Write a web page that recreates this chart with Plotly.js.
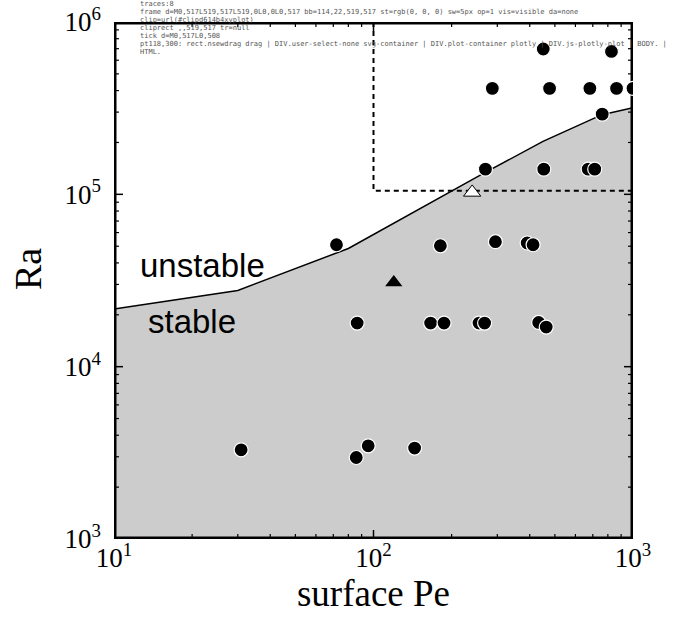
<!DOCTYPE html>
<html>
<head>
<meta charset="utf-8">
<script src="https://cdn.plot.ly/plotly-3.0.1.min.js"></script>
<style>html,body{margin:0;padding:0;background:#fff;}</style>
</head>
<body>
<div id="chart" style="width:675px;height:623px;"></div>
<div id="dbg" style="position:absolute;left:140px;top:0px;width:530px;font:7px monospace;line-height:8px;white-space:pre-wrap;word-break:break-all;color:#555;"></div>
<script>
// Stability boundary (surface Pe vs critical Ra)
var boundaryPe = [10, 30, 80, 150, 260, 450, 760, 1000];
var boundaryRa = [21600, 27700, 48500, 82000, 130000, 203000, 290000, 318000];

// Experimental points (filled circles)
var circlePe = [451, 826, 287, 477, 682, 864, 1000, 761, 270, 453, 672, 712,
                72, 181, 295, 391, 412,
                86.5, 166, 187, 255, 268, 433, 463,
                30.9, 85.8, 95.4, 144];
var circleRa = [697000, 675000, 412000, 412000, 412000, 412000, 412000, 292000, 140000, 140000, 140000, 140000,
                51000, 50300, 53100, 52200, 51000,
                17900, 17900, 17900, 17900, 17900, 18050, 16980,
                3294, 2972, 3475, 3370];

// Filled triangle
var triFilledPe = [119.7];
var triFilledRa = [30800];
// Open triangle
var triOpenPe = [240];
var triOpenRa = [102600];

// Dashed box region
var boxPe = [100, 100, 1000, 1000, 100];
var boxRa = [1000000, 105000, 105000, 1000000, 1000000];

// Axis ranges (log10) and ticks
var xRange = [1, 3];
var yRange = [3, 6];
var xTickVals = [10, 100, 1000];
var xTickText = ['10<sup>1</sup>', '10<sup>2</sup>', '10<sup>3</sup>'];
var yTickVals = [1000, 10000, 100000, 1000000];
var yTickText = ['10<sup>3</sup>', '10<sup>4</sup>', '10<sup>5</sup>', '10<sup>6</sup>'];
var xMinorVals = [20, 30, 40, 50, 60, 70, 80, 90, 200, 300, 400, 500, 600, 700, 800, 900];
var yMinorVals = [2000, 3000, 4000, 5000, 6000, 7000, 8000, 9000,
                  20000, 30000, 40000, 50000, 60000, 70000, 80000, 90000,
                  200000, 300000, 400000, 500000, 600000, 700000, 800000, 900000];

var serif = "Liberation Serif, Times New Roman, serif";
var sans = "Liberation Sans, Arial, Helvetica, sans-serif";

var W = 675, H = 623, M = {l: 114, r: 42, t: 22, b: 84};
var pxPerDecX = (W - M.l - M.r) / (xRange[1] - xRange[0]);
var pxPerDecY = (H - M.t - M.b) / (yRange[1] - yRange[0]);

function tickTrace(xv, yv, len, w) {
  var xs = [], ys = [];
  var dx = len / pxPerDecX, dy = len / pxPerDecY;
  var xLo = Math.pow(10, xRange[0]), xHi = Math.pow(10, xRange[1]);
  var yLo = Math.pow(10, yRange[0]), yHi = Math.pow(10, yRange[1]);
  xv.forEach(function (v) {
    xs.push(v, v, null, v, v, null);
    ys.push(yLo, Math.pow(10, yRange[0] + dy), null, yHi, Math.pow(10, yRange[1] - dy), null);
  });
  yv.forEach(function (v) {
    ys.push(v, v, null, v, v, null);
    xs.push(xLo, Math.pow(10, xRange[0] + dx), null, xHi, Math.pow(10, xRange[1] - dx), null);
  });
  return {x: xs, y: ys, mode: 'lines', line: {color: 'black', width: w}, connectgaps: false,
          hoverinfo: 'skip', showlegend: false};
}

var frameX = [Math.pow(10, xRange[0]), Math.pow(10, xRange[1]), Math.pow(10, xRange[1]), Math.pow(10, xRange[0]), Math.pow(10, xRange[0])];
var frameY = [Math.pow(10, yRange[0]), Math.pow(10, yRange[0]), Math.pow(10, yRange[1]), Math.pow(10, yRange[1]), Math.pow(10, yRange[0])];

var traces = [
  {x: boundaryPe, y: boundaryRa, mode: 'lines', fill: 'tozeroy', fillcolor: '#cccccc',
   line: {color: 'black', width: 1.5}, hoverinfo: 'skip', showlegend: false},
  {x: boxPe, y: boxRa, mode: 'lines', line: {color: 'black', width: 2, dash: '5px,4px'},
   showlegend: false, hoverinfo: 'skip'},
  tickTrace(xTickVals, yTickVals, 9, 1.5),
  tickTrace(xMinorVals, yMinorVals, 5, 1.2),
  {x: frameX, y: frameY, mode: 'lines', line: {color: 'black', width: 5}, hoverinfo: 'skip', showlegend: false},
  {x: circlePe, y: circleRa, mode: 'markers',
   marker: {symbol: 'circle', size: 14, color: 'black', line: {color: 'white', width: 1.2}},
   showlegend: false},
  {x: triFilledPe, y: triFilledRa, mode: 'markers',
   marker: {symbol: 'triangle-up', size: 15, color: 'black', line: {color: 'black', width: 0}},
   showlegend: false},
  {x: triOpenPe, y: triOpenRa, mode: 'markers',
   marker: {symbol: 'triangle-up', size: 15, color: 'white', line: {color: 'black', width: 1}},
   showlegend: false}
];

var layout = {
  width: W, height: H,
  margin: M,
  paper_bgcolor: 'white', plot_bgcolor: 'white',
  showlegend: false,
  xaxis: {
    type: 'log', range: xRange, showgrid: false, zeroline: false, showline: false, ticks: '',
    tickmode: 'array', tickvals: xTickVals, ticktext: xTickText,
    tickfont: {family: serif, size: 27, color: 'black'},
    title: {text: 'surface Pe', font: {family: serif, size: 37, color: 'black'}, standoff: 1}
  },
  yaxis: {
    type: 'log', range: yRange, showgrid: false, zeroline: false, showline: false, ticks: '',
    tickmode: 'array', tickvals: yTickVals, ticktext: yTickText,
    ticklabelstandoff: 12,
    tickfont: {family: serif, size: 27, color: 'black'}
  },
  annotations: [
    {text: 'Ra', xref: 'paper', yref: 'paper', x: -0.166, y: 0.522, textangle: -90,
     xanchor: 'center', yanchor: 'middle', showarrow: false,
     font: {family: serif, size: 38, color: 'black'}},
    {text: 'unstable', xref: 'paper', yref: 'paper', x: 0.17, y: 0.529, xanchor: 'center', yanchor: 'middle', showarrow: false,
     font: {family: sans, size: 33, color: 'black'}},
    {text: 'stable', xref: 'paper', yref: 'paper', x: 0.151, y: 0.42, xanchor: 'center', yanchor: 'middle', showarrow: false,
     font: {family: sans, size: 33, color: 'black'}}
  ]
};

Plotly.newPlot('chart', traces, layout, {displayModeBar: false}).then(function () {
  var out = [];
  try {
    var tr = document.querySelectorAll('.scatterlayer .trace');
    out.push('traces:' + tr.length);
    var fp = tr[4] ? tr[4].querySelector('path.js-line') : null;
    if (fp) {
      var r = fp.getBoundingClientRect(), cs = getComputedStyle(fp);
      out.push('frame d=' + (fp.getAttribute('d') || '').slice(0, 70) + ' bb=' + [r.x, r.y, r.width, r.height].map(Math.round) +
        ' st=' + cs.stroke + ' sw=' + cs.strokeWidth + ' op=' + cs.opacity + ' vis=' + cs.visibility + ' da=' + cs.strokeDasharray);
    } else { out.push('no frame path'); }
    var sl = document.querySelector('.scatterlayer');
    var g = sl; var cp = null;
    while (g && !cp) { cp = g.getAttribute && g.getAttribute('clip-path'); g = g.parentNode; }
    out.push('clip=' + cp);
    if (cp) {
      var id = cp.replace(/^url\(['"]?#/, '').replace(/['"]?\)$/, '');
      var cr = document.getElementById(id);
      if (cr) { var rr = cr.querySelector('rect'); out.push('cliprect ' + (rr ? ['x','y','width','height'].map(function(a){return rr.getAttribute(a);}) + ' tr=' + (rr.getAttribute('transform')) : 'none')); }
      else out.push('clip el missing');
    }
    var tp = tr[2] ? tr[2].querySelector('path.js-line') : null;
    if (tp) out.push('tick d=' + (tp.getAttribute('d') || '').slice(0, 80));
    var els = document.elementsFromPoint(118, 300).slice(0, 6).map(function (e) { return e.tagName + '.' + (e.getAttribute('class') || ''); });
    out.push('pt118,300: ' + els.join(' | '));
  } catch (e) { out.push('err ' + e.message); }
  document.getElementById('dbg').textContent = out.join('\n');
});
</script>
</body>
</html>
